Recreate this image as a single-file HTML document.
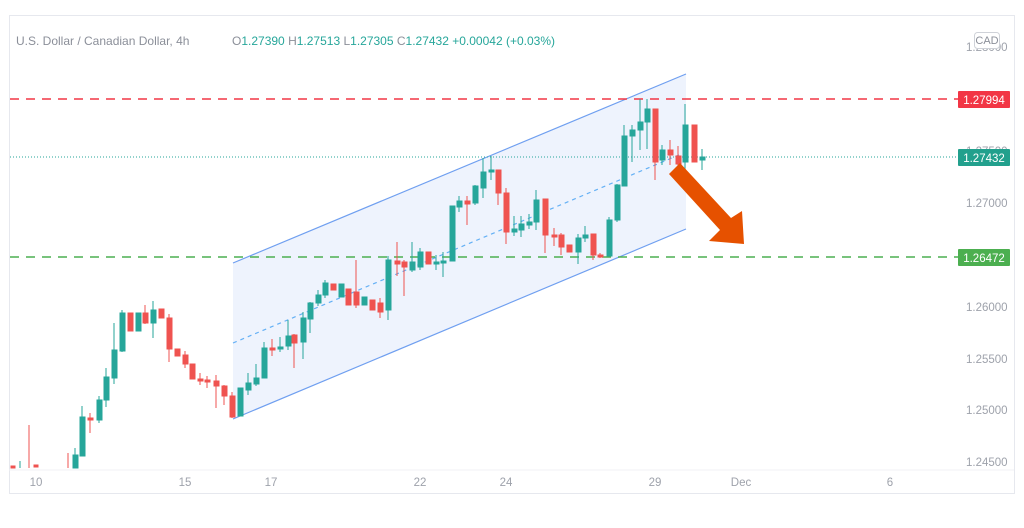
<!DOCTYPE html>
<html><head><meta charset="utf-8"><style>
html,body{margin:0;padding:0;background:#fff;width:1024px;height:528px;overflow:hidden}
svg{display:block;font-family:"Liberation Sans",sans-serif}
</style></head><body>
<svg width="1024" height="528" viewBox="0 0 1024 528">
<rect x="9.5" y="15.5" width="1005" height="478" fill="#fff" stroke="#e6e8ee"/>
<line x1="9" y1="470" x2="1014" y2="470" stroke="#f0f1f4"/>
<polygon points="233,263 686,74 686,229 233,419" fill="#eef3fd"/>
<line x1="233" y1="263" x2="686" y2="74" stroke="#6f9ff0" stroke-width="1.2"/>
<line x1="233" y1="419" x2="686" y2="229" stroke="#6f9ff0" stroke-width="1.2"/>
<line x1="233" y1="343" x2="686" y2="152" stroke="#64b0f5" stroke-width="1.2" stroke-dasharray="4,4"/>
<line x1="10" y1="99" x2="958" y2="99" stroke="#f23645" stroke-width="1.6" stroke-dasharray="9,7"/>
<line x1="10" y1="257" x2="958" y2="257" stroke="#4caf50" stroke-width="1.6" stroke-dasharray="9,7"/>
<line x1="10" y1="157" x2="958" y2="157" stroke="#26a69a" stroke-width="1" stroke-dasharray="1,2"/>
<g stroke-width="1">
<g fill="#ef5350" stroke="#ef5350">
<rect x="11" y="466" width="4" height="2"/><line x1="29" y1="425" x2="29" y2="468"/><rect x="34" y="465" width="4" height="2"/><line x1="68" y1="453" x2="68" y2="468"/>
<line x1="90" y1="413" x2="90" y2="433"/><rect x="88" y="418" width="5" height="2"/>
<rect x="128" y="313" width="5" height="18"/><line x1="145" y1="305" x2="145" y2="324"/><rect x="143" y="313" width="5" height="10"/><rect x="159" y="309" width="5" height="9"/>
<line x1="169" y1="314" x2="169" y2="362"/><rect x="167" y="318" width="5" height="31"/><rect x="175" y="349" width="5" height="7"/><line x1="185" y1="351" x2="185" y2="368"/><rect x="183" y="355" width="5" height="9"/><rect x="190" y="364" width="5" height="15"/>
<line x1="200" y1="373" x2="200" y2="385"/><rect x="198" y="379" width="5" height="2"/><line x1="207" y1="376" x2="207" y2="388"/><rect x="205" y="380" width="5" height="2"/>
<line x1="216" y1="375" x2="216" y2="408"/><rect x="214" y="381" width="5" height="5"/><line x1="224" y1="385" x2="224" y2="405"/><rect x="222" y="386" width="5" height="10"/><line x1="232" y1="392" x2="232" y2="418"/><rect x="230" y="396" width="5" height="21"/>
<line x1="272" y1="339" x2="272" y2="356"/><rect x="270" y="348" width="5" height="2"/><line x1="294" y1="334" x2="294" y2="368"/><rect x="292" y="335" width="5" height="8"/>
<rect x="331" y="284" width="5" height="6"/><rect x="346" y="289" width="5" height="16"/><line x1="356" y1="260" x2="356" y2="308"/><rect x="354" y="292" width="5" height="13"/><rect x="370" y="300" width="5" height="10"/><line x1="380" y1="298" x2="380" y2="318"/><rect x="378" y="303" width="5" height="9"/>
<line x1="397" y1="242" x2="397" y2="276"/><rect x="395" y="261" width="5" height="3"/><line x1="404" y1="260" x2="404" y2="296"/><rect x="402" y="262" width="5" height="5"/><rect x="426" y="252" width="5" height="12"/>
<line x1="467" y1="196" x2="467" y2="225"/><rect x="465" y="201" width="5" height="3"/><line x1="498" y1="170" x2="498" y2="205"/><rect x="496" y="170" width="5" height="23"/><line x1="506" y1="188" x2="506" y2="244"/><rect x="504" y="193" width="5" height="39"/>
<line x1="545" y1="199" x2="545" y2="253"/><rect x="543" y="199" width="5" height="36"/><line x1="554" y1="228" x2="554" y2="246"/><rect x="552" y="235" width="5" height="2"/><line x1="561" y1="233" x2="561" y2="255"/><rect x="559" y="235" width="5" height="12"/><rect x="567" y="245" width="5" height="7"/>
<line x1="593" y1="234" x2="593" y2="260"/><rect x="591" y="234" width="5" height="21"/><line x1="600" y1="253" x2="600" y2="258"/><rect x="598" y="255" width="5" height="2"/>
<line x1="655" y1="109" x2="655" y2="180"/><rect x="653" y="109" width="5" height="53"/><line x1="670" y1="140" x2="670" y2="165"/><rect x="668" y="150" width="5" height="5"/><line x1="678" y1="146" x2="678" y2="169"/><rect x="676" y="156" width="5" height="8"/><rect x="692" y="125" width="5" height="37"/>
</g>
<g fill="#26a69a" stroke="#26a69a">
<line x1="20" y1="461" x2="20" y2="468"/><rect x="73" y="455" width="5" height="13"/><line x1="75" y1="448" x2="75" y2="468"/><line x1="82" y1="406" x2="82" y2="456"/><rect x="80" y="417" width="5" height="39"/>
<line x1="99" y1="396" x2="99" y2="423"/><rect x="97" y="400" width="5" height="20"/><line x1="106" y1="368" x2="106" y2="407"/><rect x="104" y="377" width="5" height="23"/><line x1="114" y1="323" x2="114" y2="384"/><rect x="112" y="350" width="5" height="28"/><line x1="122" y1="310" x2="122" y2="352"/><rect x="120" y="313" width="5" height="38"/>
<rect x="136" y="313" width="5" height="18"/><line x1="153" y1="301" x2="153" y2="338"/><rect x="151" y="310" width="5" height="13"/>
<rect x="238" y="388" width="5" height="28"/><line x1="248" y1="373" x2="248" y2="395"/><rect x="246" y="383" width="5" height="7"/><line x1="256" y1="364" x2="256" y2="386"/><rect x="254" y="378" width="5" height="6"/><line x1="264" y1="342" x2="264" y2="378"/><rect x="262" y="348" width="5" height="30"/>
<line x1="280" y1="337" x2="280" y2="352"/><rect x="278" y="347" width="5" height="2"/><line x1="288" y1="320" x2="288" y2="350"/><rect x="286" y="336" width="5" height="10"/><line x1="303" y1="312" x2="303" y2="359"/><rect x="301" y="318" width="5" height="24"/><line x1="310" y1="302" x2="310" y2="333"/><rect x="308" y="303" width="5" height="16"/><line x1="318" y1="290" x2="318" y2="306"/><rect x="316" y="295" width="5" height="8"/>
<line x1="325" y1="280" x2="325" y2="298"/><rect x="323" y="283" width="5" height="12"/><rect x="339" y="284" width="5" height="13"/><rect x="362" y="297" width="5" height="8"/>
<line x1="388" y1="256" x2="388" y2="320"/><rect x="386" y="260" width="5" height="50"/><line x1="412" y1="242" x2="412" y2="272"/><rect x="410" y="262" width="5" height="8"/><line x1="420" y1="248" x2="420" y2="270"/><rect x="418" y="252" width="5" height="15"/><line x1="436" y1="255" x2="436" y2="270"/><rect x="434" y="262" width="5" height="2"/><line x1="443" y1="252" x2="443" y2="277"/><rect x="441" y="261" width="5" height="2"/>
<rect x="450" y="206" width="5" height="55"/><line x1="459" y1="196" x2="459" y2="212"/><rect x="457" y="201" width="5" height="6"/><line x1="475" y1="185" x2="475" y2="205"/><rect x="473" y="186" width="5" height="17"/><line x1="483" y1="158" x2="483" y2="198"/><rect x="481" y="172" width="5" height="16"/><line x1="491" y1="156" x2="491" y2="180"/><rect x="489" y="170" width="5" height="2"/>
<line x1="514" y1="216" x2="514" y2="236"/><rect x="512" y="229" width="5" height="3"/><line x1="521" y1="216" x2="521" y2="237"/><rect x="519" y="224" width="5" height="6"/><line x1="529" y1="214" x2="529" y2="229"/><rect x="527" y="222" width="5" height="3"/><line x1="536" y1="190" x2="536" y2="230"/><rect x="534" y="200" width="5" height="22"/>
<line x1="578" y1="234" x2="578" y2="264"/><rect x="576" y="238" width="5" height="14"/><line x1="585" y1="226" x2="585" y2="242"/><rect x="583" y="235" width="5" height="3"/>
<line x1="609" y1="217" x2="609" y2="256"/><rect x="607" y="220" width="5" height="36"/><line x1="617" y1="184" x2="617" y2="222"/><rect x="615" y="185" width="5" height="35"/><line x1="624" y1="125" x2="624" y2="186"/><rect x="622" y="136" width="5" height="50"/>
<line x1="632" y1="125" x2="632" y2="162"/><rect x="630" y="130" width="5" height="6"/><line x1="640" y1="99" x2="640" y2="150"/><rect x="638" y="122" width="5" height="8"/><line x1="647" y1="99" x2="647" y2="149"/><rect x="645" y="109" width="5" height="13"/>
<line x1="662" y1="145" x2="662" y2="165"/><rect x="660" y="150" width="5" height="10"/><line x1="685" y1="104" x2="685" y2="170"/><rect x="683" y="125" width="5" height="37"/><line x1="702" y1="149" x2="702" y2="170"/><rect x="700" y="157" width="5" height="3"/>
</g>
</g>
<!-- arrow -->
<polygon points="669,174 680,163 731,218 742,211 744,244 709,241 720,230" fill="#e65100"/>
<text x="16" y="45" font-size="12" fill="#8b8f99">U.S. Dollar / Canadian Dollar, 4h</text>
<text x="232" y="45" font-size="12" fill="#26a69a"><tspan fill="#8b8f99">O</tspan>1.27390 <tspan fill="#8b8f99">H</tspan>1.27513 <tspan fill="#8b8f99">L</tspan>1.27305 <tspan fill="#8b8f99">C</tspan>1.27432 +0.00042 (+0.03%)</text>
<g font-size="11.5" fill="#9ea2ab" text-anchor="start">
<text x="966" y="51">1.28000</text><text x="966" y="155">1.27500</text><text x="966" y="207">1.27000</text><text x="966" y="311">1.26000</text><text x="966" y="363">1.25500</text><text x="966" y="414">1.25000</text><text x="966" y="466">1.24500</text>
</g>
<rect x="974.5" y="32.5" width="25" height="16" rx="3" fill="#fff" stroke="#cfd2d8"/>
<text x="987" y="44" font-size="11" fill="#8b8f99" text-anchor="middle">CAD</text>
<rect x="958" y="91" width="52" height="17" rx="1" fill="#f23645"/><text x="984" y="104" font-size="11.5" fill="#fff" text-anchor="middle">1.27994</text>
<rect x="958" y="149" width="52" height="17" rx="1" fill="#22a08d"/><text x="984" y="162" font-size="11.5" fill="#fff" text-anchor="middle">1.27432</text>
<rect x="958" y="249" width="52" height="17" rx="1" fill="#4caf50"/><text x="984" y="262" font-size="11.5" fill="#fff" text-anchor="middle">1.26472</text>
<g font-size="11.5" fill="#9ea2ab" text-anchor="middle">
<text x="36" y="486">10</text><text x="185" y="486">15</text><text x="271" y="486">17</text><text x="420" y="486">22</text><text x="506" y="486">24</text><text x="655" y="486">29</text><text x="741" y="486">Dec</text><text x="890" y="486">6</text>
</g>
</svg>
</body></html>
